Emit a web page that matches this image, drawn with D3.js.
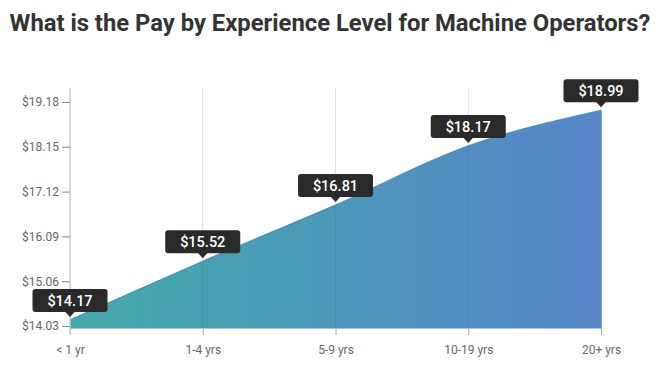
<!DOCTYPE html>
<html><head><meta charset="utf-8">
<script src="https://cdn.jsdelivr.net/npm/d3@7"></script>
<style>body{margin:0;background:#fff;font-family:Roboto,sans-serif;}</style>
</head><body>
<svg id="c" width="659" height="366"></svg>
<script>
const title = "What is the Pay by Experience Level for Machine Operators?";
const categories = ["< 1 yr","1-4 yrs","5-9 yrs","10-19 yrs","20+ yrs"];
const values = [14.17, 15.52, 16.81, 18.17, 18.99];
const yTicks = [14.03, 15.06, 16.09, 17.12, 18.15, 19.18];
const yDomain = [13.984, 19.502];

const svg = d3.select("#c");
const m = {l:70, r:58, t:88, b:38};
const W = 659, H = 366;
const x = d3.scalePoint().domain(categories).range([m.l, W - m.r]);
const y = d3.scaleLinear().domain(yDomain).range([H - m.b, m.t]);

svg.append("text").attr("x", 330).attr("y", 31).attr("text-anchor","middle")
  .attr("font-family","Roboto").attr("font-weight","bold").attr("font-size", 23.8)
  .attr("fill","#333").text(title);

// gradient
const defs = svg.append("defs");
const g = defs.append("linearGradient").attr("id","gr").attr("x1","0%").attr("x2","100%").attr("y1","0%").attr("y2","0%");
g.append("stop").attr("offset","0%").attr("stop-color","#42aaab");
g.append("stop").attr("offset","100%").attr("stop-color","#5686c9");

// vertical grid
svg.append("g").selectAll("line").data(categories.slice(1)).join("line")
  .attr("x1", d => x(d)).attr("x2", d => x(d))
  .attr("y1", m.t).attr("y2", H - m.b)
  .attr("stroke","#ddd").attr("stroke-width",1);

const data = categories.map((c,i)=>({c, v: values[i]}));
const area = d3.area().x(d=>x(d.c)).y0(y(yDomain[0])).y1(d=>y(d.v)).curve(d3.curveMonotoneX);
const line = d3.line().x(d=>x(d.c)).y(d=>y(d.v)).curve(d3.curveMonotoneX);
svg.append("path").datum(data).attr("d", area).attr("fill","url(#gr)");
svg.append("path").datum(data).attr("d", line).attr("fill","none").attr("stroke","#3f86b5").attr("stroke-width",1.2).attr("stroke-opacity",0.8);
svg.append("line").attr("x1", x(categories[4])).attr("x2", x(categories[4]))
  .attr("y1", y(values[4])).attr("y2", H - m.b).attr("stroke","#5a8ad8").attr("stroke-width",1.5);

// faint gridlines over area
svg.append("g").selectAll("line").data(categories.slice(1,4)).join("line")
  .attr("x1", d => x(d)).attr("x2", d => x(d))
  .attr("y1", d=>y(values[categories.indexOf(d)])).attr("y2", H - m.b)
  .attr("stroke","#000").attr("stroke-opacity",0.06);

// x axis
const xa = svg.append("g").attr("transform",`translate(0,${H - m.b})`)
  .call(d3.axisBottom(x).tickSize(7).tickPadding(10));
xa.select(".domain").attr("stroke","#5a8ad8").attr("stroke-opacity",0.5);
xa.selectAll(".tick line").attr("stroke","#aaa");
xa.selectAll("text").attr("font-family","Roboto").attr("font-size",12).attr("fill","#666");

// y axis
const ya = svg.append("g").attr("transform",`translate(${m.l},0)`)
  .call(d3.axisLeft(y).tickValues(yTicks).tickFormat(d=>"$"+d.toFixed(2)).tickSize(8).tickPadding(3));
ya.select(".domain").attr("d", `M0,${m.t}V${H - m.b + 7}`).attr("stroke","#ccc").attr("stroke-width",1.5);
ya.selectAll(".tick line").attr("stroke","#888");
ya.selectAll("text").attr("font-family","Roboto").attr("font-size",12).attr("fill","#666");

// labels
const lb = svg.append("g").selectAll("g").data(data).join("g")
  .attr("transform", d=>`translate(${x(d.c)},${y(d.v) - 2})`);
lb.append("rect").attr("x",-37.5).attr("y",-29).attr("width",75).attr("height",23).attr("rx",3)
  .attr("fill","#2b2a2a");
lb.append("path").attr("d","M-5,-6.5L0,-1L5,-6.5Z").attr("fill","#2b2a2a");
lb.append("text").attr("y",-12).attr("text-anchor","middle").attr("font-family","Roboto")
  .attr("font-weight","500").attr("font-size",14.5).attr("fill","#fff").text(d=>"$"+d.v.toFixed(2));
</script>
</body></html>
